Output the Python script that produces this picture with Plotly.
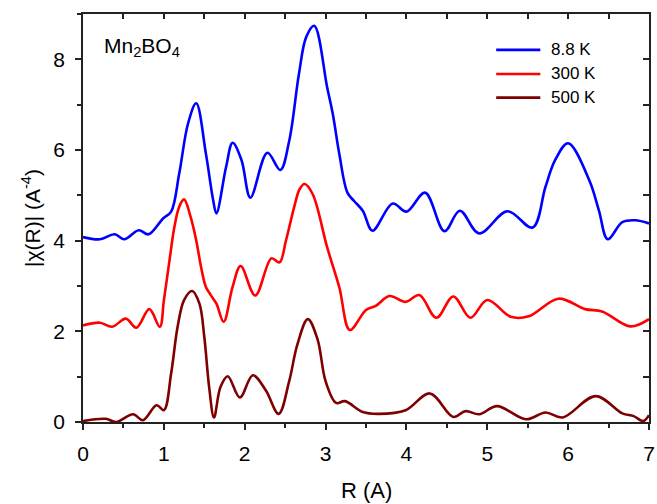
import plotly.graph_objects as go

# ---- data ----
r_88 = [0, 0.21, 0.39, 0.51, 0.69, 0.81, 0.99, 1.09, 1.19, 1.30, 1.40, 1.52, 1.61, 1.65, 1.77, 1.85, 1.96,
        2.07, 2.28, 2.44, 2.55, 2.67, 2.76, 2.86, 3.02, 3.09, 3.17, 3.27, 3.35, 3.46, 3.58, 3.83, 4.00, 4.23,
        4.47, 4.66, 4.90, 5.25, 5.56, 5.72, 5.84, 6.00, 6.26, 6.38, 6.49, 6.67, 6.83, 7.0]
chi_88 = [4.08, 4.03, 4.14, 4.03, 4.23, 4.14, 4.49, 4.64, 5.48, 6.59, 7.03, 5.92, 4.89, 4.60, 5.63, 6.16, 5.78,
          4.95, 5.94, 5.56, 6.20, 7.67, 8.49, 8.74, 7.38, 6.79, 5.91, 5.06, 4.88, 4.66, 4.22, 4.82, 4.64, 5.06,
          4.21, 4.66, 4.16, 4.65, 4.29, 5.19, 5.78, 6.15, 5.34, 4.67, 4.03, 4.41, 4.45, 4.38]

r_300 = [0, 0.21, 0.36, 0.53, 0.66, 0.82, 0.95, 1.00, 1.07, 1.13, 1.19, 1.25, 1.33, 1.40, 1.46, 1.52, 1.58,
         1.65, 1.74, 1.85, 1.95, 2.13, 2.33, 2.43, 2.51, 2.61, 2.68, 2.74, 2.84, 3.02, 3.17, 3.30, 3.50, 3.62,
         3.79, 3.99, 4.16, 4.37, 4.58, 4.79, 5.00, 5.29, 5.51, 5.88, 6.21, 6.42, 6.77, 7.0]
chi_300 = [2.13, 2.19, 2.10, 2.28, 2.08, 2.49, 2.10, 2.68, 3.57, 4.30, 4.75, 4.91, 4.53, 4.01, 3.42, 2.98, 2.80,
           2.61, 2.21, 2.98, 3.44, 2.79, 3.61, 3.52, 4.00, 4.73, 5.14, 5.25, 5.03, 3.85, 2.97, 2.03, 2.47, 2.56,
           2.78, 2.65, 2.80, 2.30, 2.77, 2.30, 2.69, 2.32, 2.33, 2.72, 2.49, 2.44, 2.11, 2.27]

r_500 = [0, 0.28, 0.41, 0.62, 0.74, 0.91, 1.0, 1.09, 1.17, 1.25, 1.35, 1.44, 1.50, 1.56, 1.62, 1.70, 1.79,
         1.94, 2.10, 2.26, 2.42, 2.55, 2.65, 2.78, 2.90, 3.00, 3.13, 3.24, 3.46, 3.66, 3.99, 4.29, 4.58, 4.73,
         4.90, 5.12, 5.48, 5.72, 5.93, 6.34, 6.67, 6.81, 6.93, 7.0]
chi_500 = [0.02, 0.07, 0.0, 0.17, 0.04, 0.37, 0.26, 1.07, 2.10, 2.69, 2.89, 2.61, 1.88, 0.77, 0.10, 0.77, 1.01,
           0.54, 1.03, 0.70, 0.18, 0.90, 1.70, 2.27, 1.83, 0.90, 0.42, 0.46, 0.22, 0.18, 0.26, 0.63, 0.11, 0.24,
           0.17, 0.35, 0.06, 0.21, 0.10, 0.57, 0.19, 0.13, 0.02, 0.15]

series_names = ["8.8 K", "300 K", "500 K"]
series_colors = ["#0000FF", "#FF0000", "#7F0000"]
series_r = [r_88, r_300, r_500]
series_chi = [chi_88, chi_300, chi_500]

FONT = "Liberation Sans, Arial, sans-serif"
AXC = "#222222"

fig = go.Figure()
for name, col, rr, cc in zip(series_names, series_colors, series_r, series_chi):
    fig.add_trace(go.Scatter(x=rr, y=cc, mode="lines", name=name, showlegend=False,
                             line=dict(color=col, width=2.6, shape="spline", smoothing=1.0)))
# invisible trace to anchor the mirrored (top/right) axes
fig.add_trace(go.Scatter(x=[0], y=[0], xaxis="x2", yaxis="y2", mode="markers",
                         marker=dict(opacity=0), showlegend=False, hoverinfo="skip"))

# manual legend (line samples + labels)
leg_y = [0.912, 0.853, 0.795]
for name, col, yy in zip(series_names, series_colors, leg_y):
    fig.add_shape(type="line", xref="paper", yref="paper", x0=0.730, x1=0.808, y0=yy, y1=yy,
                  line=dict(color=col, width=2.6))
    fig.add_annotation(xref="paper", yref="paper", x=0.824, y=yy, text=name, showarrow=False,
                       xanchor="left", yanchor="middle", font=dict(family=FONT, size=17, color="black"))

fig.add_annotation(xref="paper", yref="paper", x=0.033, y=0.919, text="Mn<sub>2</sub>BO<sub>4</sub>",
                   showarrow=False, xanchor="left", yanchor="middle",
                   font=dict(family=FONT, size=21, color="black"))

# axis titles as positioned annotations
fig.add_annotation(xref="paper", yref="paper", x=0, y=0.5, xshift=-52, text="|χ(R)| (A<sup>-4</sup>)",
                   textangle=-90, showarrow=False, xanchor="center", yanchor="middle",
                   font=dict(family=FONT, size=21, color="black"))
fig.add_annotation(xref="paper", yref="paper", x=0.5, y=0, yshift=-68, text="R (A)",
                   showarrow=False, xanchor="center", yanchor="middle",
                   font=dict(family=FONT, size=22, color="black"))

fig.update_layout(
    width=657, height=504,
    margin=dict(l=83, r=8, t=14, b=82, autoexpand=False),
    paper_bgcolor="white", plot_bgcolor="white",
    font=dict(family=FONT, size=21, color="black"),
    xaxis=dict(range=[0, 7], tickmode="linear", tick0=0, dtick=1, ticks="outside", ticklen=6,
               tickwidth=1.5, tickcolor=AXC, showline=True, linecolor=AXC, linewidth=1.5,
               showgrid=False, zeroline=False, automargin=False,
               minor=dict(ticks="outside", dtick=0.5, ticklen=4, tickwidth=1.5, tickcolor=AXC),
               tickfont=dict(size=21), ticklabelstandoff=6),
    yaxis=dict(range=[0, 9], tickmode="linear", tick0=0, dtick=2, ticks="outside", ticklen=6,
               tickwidth=1.5, tickcolor=AXC, showline=True, linecolor=AXC, linewidth=1.5,
               showgrid=False, zeroline=False, automargin=False,
               minor=dict(ticks="outside", dtick=1, ticklen=4, tickwidth=1.5, tickcolor=AXC),
               tickfont=dict(size=21), ticklabelstandoff=6),
    xaxis2=dict(overlaying="x", side="top", anchor="y", range=[0, 7], tickmode="linear", tick0=0,
                dtick=0.5, ticks="inside", ticklen=5, tickwidth=1.5, tickcolor=AXC,
                showticklabels=False, showline=True, linecolor=AXC, linewidth=1.5,
                showgrid=False, zeroline=False, automargin=False),
    yaxis2=dict(overlaying="y", side="right", anchor="x", range=[0, 9], tickmode="linear", tick0=0,
                dtick=1, ticks="inside", ticklen=6, tickwidth=1.5, tickcolor=AXC,
                showticklabels=False, showline=True, linecolor=AXC, linewidth=1.5,
                showgrid=False, zeroline=False, automargin=False),
)

fig.write_html("out.html")
